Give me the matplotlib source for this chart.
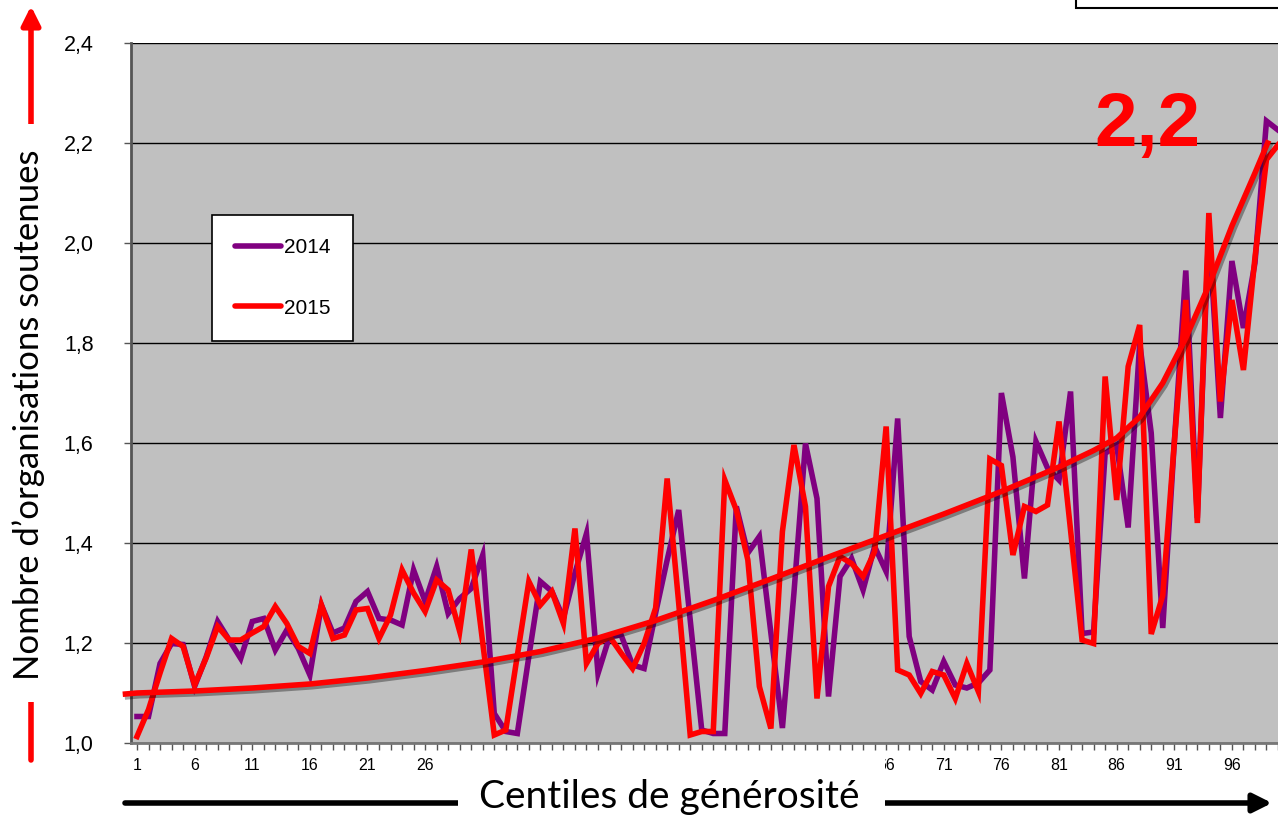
import numpy as np
import matplotlib
matplotlib.use("Agg")
import matplotlib.pyplot as plt
from matplotlib.patches import Rectangle, FancyArrowPatch
from matplotlib.lines import Line2D
import matplotlib.patheffects as pe

# centiles 1..100
centiles = np.arange(1, 101)

vals_2014 = [
    1.053, 1.053, 1.159, 1.199, 1.197, 1.113, 1.172, 1.243, 1.206, 1.169,
    1.243, 1.249, 1.186, 1.226, 1.189, 1.136, 1.276, 1.220, 1.230, 1.283,
    1.303, 1.249, 1.246, 1.236, 1.346, 1.283, 1.353, 1.259, 1.289, 1.309,
    1.376, 1.059, 1.023, 1.019, 1.173, 1.323, 1.303, 1.250, 1.340, 1.419,
    1.139, 1.213, 1.216, 1.156, 1.149, 1.260, 1.366, 1.466, 1.246, 1.026,
    1.019, 1.019, 1.473, 1.380, 1.413, 1.220, 1.030, 1.300, 1.599, 1.489,
    1.093, 1.333, 1.369, 1.306, 1.393, 1.343, 1.649, 1.213, 1.123, 1.106,
    1.163, 1.116, 1.110, 1.120, 1.146, 1.700, 1.572, 1.329, 1.603, 1.550,
    1.526, 1.703, 1.219, 1.222, 1.579, 1.596, 1.431, 1.800, 1.620, 1.230,
    1.600, 1.945, 1.450, 2.030, 1.650, 1.964, 1.830, 1.960, 2.244, 2.226,
]

vals_2015 = [
    1.013, 1.067, 1.140, 1.209, 1.193, 1.116, 1.170, 1.233, 1.206, 1.206,
    1.220, 1.233, 1.273, 1.239, 1.193, 1.179, 1.276, 1.209, 1.216, 1.266,
    1.269, 1.209, 1.256, 1.346, 1.300, 1.263, 1.326, 1.306, 1.223, 1.387,
    1.200, 1.016, 1.026, 1.175, 1.323, 1.276, 1.303, 1.239, 1.429, 1.159,
    1.199, 1.213, 1.180, 1.149, 1.199, 1.270, 1.529, 1.280, 1.016, 1.023,
    1.023, 1.526, 1.466, 1.366, 1.113, 1.029, 1.423, 1.596, 1.473, 1.089,
    1.313, 1.373, 1.359, 1.333, 1.383, 1.633, 1.146, 1.136, 1.099, 1.143,
    1.136, 1.089, 1.159, 1.103, 1.568, 1.555, 1.376, 1.473, 1.463, 1.476,
    1.643, 1.426, 1.206, 1.199, 1.733, 1.486, 1.753, 1.836, 1.218, 1.295,
    1.600, 1.886, 1.440, 2.060, 1.683, 1.886, 1.746, 1.970, 2.167, 2.196,
]

# hand-drawn trend curve
trend_x = [0, 1, 6, 11, 16, 21, 26, 31, 36, 41, 46, 51, 56, 61, 66, 71, 76,
           81, 84, 86, 88, 90, 92, 94, 96, 98, 99.1]
trend_y = [1.098, 1.100, 1.104, 1.110, 1.118, 1.130, 1.145, 1.162, 1.183,
           1.210, 1.245, 1.285, 1.328, 1.372, 1.415, 1.458, 1.503, 1.552,
           1.585, 1.610, 1.652, 1.720, 1.810, 1.915, 2.034, 2.140, 2.200]

xtick_pos = list(range(1, 100, 5))
ytick_pos = [1.0, 1.2, 1.4, 1.6, 1.8, 2.0, 2.2, 2.4]
ytick_labels = ['1,0', '1,2', '1,4', '1,6', '1,8', '2,0', '2,2', '2,4']

W, H = 1278, 816
fig = plt.figure(figsize=(W / 100, H / 100), dpi=100)
ax = fig.add_axes([131 / W, 73 / H, 1 - 131 / W, 700 / H])
ax.set_facecolor('#C0C0C0')

ax.plot(centiles, vals_2014, color='#800080', lw=4, solid_joinstyle='miter', zorder=3)
ax.plot(centiles, vals_2015, color='#FF0000', lw=4, solid_joinstyle='miter', zorder=4)
ax.plot(trend_x, trend_y, color='#FF0000', lw=4, zorder=5, clip_on=False,
        path_effects=[pe.SimpleLineShadow(offset=(1.5, -2), alpha=0.35), pe.Normal()])

ax.set_xlim(0.48, 99.98)
ax.set_ylim(1.0, 2.4)

ax.set_yticks(ytick_pos)
ax.set_yticklabels(ytick_labels, fontsize=15.5, family='Liberation Sans')
ax.set_xticks(xtick_pos)
ax.set_xticklabels([str(v) for v in xtick_pos], fontsize=11.5, family='Liberation Sans')
ax.set_xticks(centiles, minor=True)
ax.tick_params(axis='y', length=5, width=1, color='#555555', pad=22)
ax.tick_params(axis='x', which='both', length=5, width=1, color='#555555', pad=6)

ax.grid(axis='y', color='black', lw=1.0, zorder=1)
ax.set_axisbelow(True)
for s in ['top', 'right']:
    ax.spines[s].set_visible(False)
ax.spines['left'].set_color('#555555')
ax.spines['left'].set_linewidth(2)
ax.spines['bottom'].set_color('#777777')
ax.spines['bottom'].set_linewidth(2)

handles = [Line2D([], [], color='#800080', lw=4, solid_capstyle='round'),
           Line2D([], [], color='#FF0000', lw=4, solid_capstyle='round')]
leg = ax.legend(handles, ['2014', '2015'], loc='upper left',
                bbox_to_anchor=(212 / W, 1 - 215 / H), bbox_transform=fig.transFigure,
                fancybox=False, framealpha=1, edgecolor='black',
                prop={'family': 'Liberation Sans', 'size': 15},
                borderpad=1.1, labelspacing=2.0, handlelength=2.2, handletextpad=0.15,
                borderaxespad=0)
leg.get_frame().set_linewidth(1.2)

ax.text(1094 / W, 1 - 146 / H, '2,2', transform=fig.transFigure, color='#FF0000',
        fontsize=55, fontweight='bold', family='Liberation Sans', va='baseline', ha='left',
        zorder=10)

# red vertical arrow + y label on white
arr_y = FancyArrowPatch((31 / W, 1 - 760 / H), (31 / W, 1 - 6 / H), transform=fig.transFigure,
                        arrowstyle='-|>', mutation_scale=28, lw=4, color='#FF0000',
                        shrinkA=0, shrinkB=0, zorder=1)
fig.patches.append(arr_y)
fig.patches.append(Rectangle((4 / W, 1 - 702 / H), 50 / W, 578 / H, transform=fig.transFigure,
                             facecolor='white', edgecolor='none', zorder=2))
fig.text(29 / W, 1 - 415 / H, 'Nombre d\u2019organisations soutenues', rotation=90,
         ha='center', va='center', fontsize=25, family='Lato', zorder=3)

# black horizontal arrow + x label on white
arr_x = FancyArrowPatch((125 / W, 1 - 803 / H), (1272 / W, 1 - 803 / H), transform=fig.transFigure,
                        arrowstyle='-|>', mutation_scale=28, lw=4, color='black',
                        shrinkA=0, shrinkB=0, zorder=1)
fig.patches.append(arr_x)
fig.patches.append(Rectangle((458 / W, 0), 427 / W, 64 / H, transform=fig.transFigure,
                             facecolor='white', edgecolor='none', zorder=2))
fig.text(669 / W, 1 - 797 / H, 'Centiles de générosité', ha='center', va='center',
         fontsize=28, family='Lato', zorder=3)

# box cut off at the top right
fig.patches.append(Rectangle((1076 / W, 1 - 8 / H), 300 / W, 40 / H, transform=fig.transFigure,
                             facecolor='white', edgecolor='black', lw=1.5, zorder=2))

fig.savefig('out.png', dpi=100)
